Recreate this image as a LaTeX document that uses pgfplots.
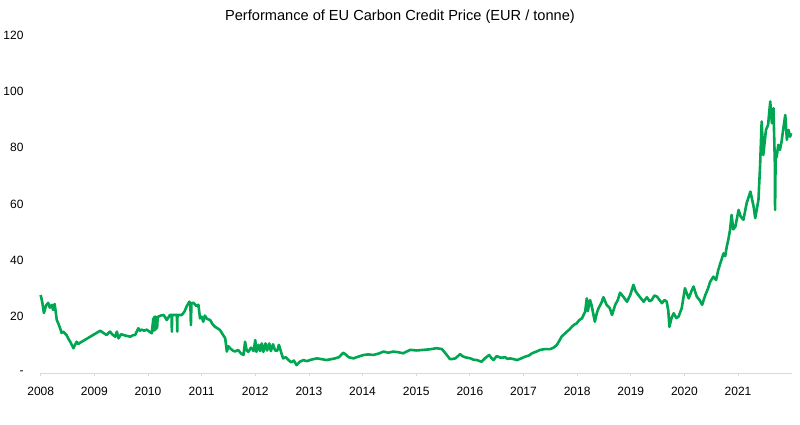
\documentclass[border=0pt]{standalone}
\usepackage{pgfplots}
\pgfplotsset{compat=1.18}
\usepackage{fontspec}
\setmainfont{Liberation Sans}
\definecolor{eugreen}{RGB}{0,166,81}
\definecolor{axgray}{RGB}{217,217,217}
\begin{document}
\begin{tikzpicture}
\useasboundingbox (-40.7pt,-52pt) rectangle (759.3pt,373pt);
\begin{axis}[
  at={(0,0)}, anchor=south west,
  scale only axis, width=751pt, height=338pt,
  xmin=2008, xmax=2022, ymin=0, ymax=120,
  axis x line*=bottom, axis y line*=left,
  x axis line style={draw=axgray, line width=0.8pt},
  y axis line style={draw=none},
  xtick={2008,2009,2010,2011,2012,2013,2014,2015,2016,2017,2018,2019,2020,2021},
  xticklabels={2008,2009,2010,2011,2012,2013,2014,2015,2016,2017,2018,2019,2020,2021},
  ytick={0,20,40,60,80,100,120},
  yticklabels={{-\hspace{8.5pt}},20,40,60,80,100,120},
  x tick style={draw=axgray, line width=0.8pt},
  y tick style={draw=none},
  tick align=outside, major tick length=3pt,
  x tick label style={anchor=north, inner sep=0pt, yshift=-10.5pt, font=\fontsize{12}{14}\selectfont},
  y tick label style={anchor=east, inner sep=0pt, xshift=-14pt, font=\fontsize{12}{14}\selectfont},
  clip=false,
]
\addplot[eugreen, line width=2.6pt, line join=round] table {
x y
2008.00 27.7
2008.03 25.0
2008.06 21.3
2008.10 24.0
2008.14 24.9
2008.17 23.2
2008.21 24.2
2008.23 22.4
2008.26 24.5
2008.30 18.8
2008.33 17.5
2008.36 16.0
2008.39 14.2
2008.42 14.7
2008.48 13.5
2008.52 12.0
2008.55 11.1
2008.58 10.0
2008.61 8.8
2008.64 10.0
2008.67 11.1
2008.70 10.3
2008.73 10.7
2009.11 15.0
2009.17 14.2
2009.23 13.5
2009.29 14.7
2009.34 13.6
2009.39 12.9
2009.42 14.7
2009.45 12.3
2009.50 13.8
2009.54 13.5
2009.60 13.2
2009.67 12.9
2009.72 13.4
2009.76 13.5
2009.82 15.9
2009.85 15.0
2009.88 15.4
2009.93 15.0
2009.98 15.4
2010.03 14.6
2010.07 14.1
2010.10 19.4
2010.11 15.0
2010.12 20.0
2010.13 15.2
2010.14 20.0
2010.15 15.5
2010.16 19.8
2010.17 16.0
2010.18 19.5
2010.19 20.0
2010.24 20.4
2010.29 20.6
2010.32 19.8
2010.35 18.8
2010.41 20.6
2010.44 20.6
2010.445 14.7
2010.45 20.6
2010.54 20.6
2010.545 14.7
2010.55 20.6
2010.63 20.6
2010.68 21.8
2010.72 23.6
2010.77 25.3
2010.79 24.6
2010.80 17.0
2010.81 24.8
2010.85 24.9
2010.90 23.8
2010.94 24.2
2010.97 19.4
2011.00 20.0
2011.03 18.2
2011.06 20.4
2011.10 19.2
2011.16 18.8
2011.20 17.4
2011.25 16.4
2011.30 15.8
2011.34 15.3
2011.39 13.8
2011.44 12.3
2011.47 7.6
2011.50 9.5
2011.53 8.8
2011.58 8.0
2011.62 7.6
2011.68 8.2
2011.73 7.0
2011.78 6.4
2011.81 11.1
2011.84 8.0
2011.87 7.5
2011.92 9.0
2011.97 7.8
2012.00 11.7
2012.02 7.5
2012.06 10.0
2012.09 7.8
2012.12 10.5
2012.15 7.5
2012.19 10.5
2012.22 8.0
2012.26 10.5
2012.29 7.8
2012.33 10.2
2012.37 8.0
2012.41 7.9
2012.44 10.0
2012.46 8.8
2012.49 6.8
2012.52 5.2
2012.57 5.6
2012.62 4.6
2012.67 3.8
2012.72 4.4
2012.77 2.8
2012.83 4.0
2012.90 4.6
2012.96 4.2
2013.02 4.6
2013.08 4.9
2013.15 5.2
2013.24 4.9
2013.33 4.6
2013.41 4.9
2013.49 5.2
2013.56 5.6
2013.64 7.2
2013.69 6.5
2013.74 5.6
2013.83 5.2
2013.92 5.8
2014.02 6.4
2014.11 6.6
2014.20 6.4
2014.30 6.9
2014.39 7.6
2014.48 7.2
2014.57 7.6
2014.66 7.4
2014.76 7.0
2014.82 7.6
2014.89 8.2
2015.01 8.0
2015.13 8.2
2015.25 8.4
2015.38 8.8
2015.48 8.5
2015.57 6.4
2015.63 4.9
2015.68 5.0
2015.73 5.2
2015.82 6.7
2015.86 6.0
2015.91 5.6
2016.01 5.2
2016.07 4.7
2016.13 4.6
2016.22 4.0
2016.28 5.2
2016.36 6.4
2016.40 5.4
2016.44 4.6
2016.50 6.0
2016.58 5.4
2016.66 5.6
2016.70 5.0
2016.75 5.2
2016.82 4.9
2016.88 4.6
2016.96 5.2
2017.03 5.8
2017.10 6.2
2017.16 7.0
2017.24 7.6
2017.31 8.2
2017.40 8.5
2017.50 8.5
2017.56 9.0
2017.62 9.9
2017.67 11.5
2017.71 12.9
2017.76 13.8
2017.81 14.7
2017.86 15.5
2017.90 16.4
2017.95 17.2
2017.99 17.6
2018.04 18.8
2018.09 19.4
2018.12 20.6
2018.15 21.8
2018.18 26.5
2018.20 22.0
2018.24 25.9
2018.27 24.0
2018.33 18.2
2018.37 21.5
2018.40 23.0
2018.45 24.8
2018.49 26.9
2018.55 24.2
2018.61 23.0
2018.65 20.6
2018.71 24.2
2018.76 26.0
2018.80 28.5
2018.86 27.1
2018.93 25.3
2018.99 27.7
2019.05 31.3
2019.09 29.0
2019.14 27.7
2019.19 26.5
2019.24 25.3
2019.30 26.9
2019.35 25.5
2019.39 25.9
2019.44 27.5
2019.49 27.1
2019.54 25.8
2019.58 24.8
2019.63 25.9
2019.67 25.3
2019.70 22.0
2019.72 16.4
2019.76 19.5
2019.80 21.2
2019.85 19.5
2019.89 20.0
2019.95 23.0
2020.01 30.1
2020.05 28.0
2020.08 26.5
2020.13 29.0
2020.17 30.7
2020.23 27.1
2020.28 26.0
2020.33 24.2
2020.39 27.7
2020.44 30.0
2020.48 32.4
2020.54 34.2
2020.59 33.0
2020.63 36.5
2020.67 39.0
2020.73 42.5
2020.76 41.5
2020.79 44.9
2020.82 47.5
2020.85 50.8
2020.88 56.1
2020.91 51.0
2020.95 52.0
2021.01 57.9
2021.05 55.5
2021.10 54.4
2021.16 60.3
2021.23 64.4
2021.29 59.1
2021.32 55.0
2021.38 61.5
2021.41 73.3
2021.44 89.3
2021.47 77.4
2021.52 86.3
2021.56 88.1
2021.60 96.4
2021.63 88.7
2021.66 94.0
2021.685 75.0
2021.69 57.9
2021.70 76.0
2021.72 76.8
2021.75 81.0
2021.78 79.2
2021.81 82.0
2021.84 86.3
2021.88 91.6
2021.91 82.8
2021.94 86.3
2021.97 83.9
2021.99 85.1
};
\end{axis}
\node[anchor=base] at (359.3pt,352.3pt) {\fontsize{14.6}{17}\selectfont Performance of EU Carbon Credit Price (EUR / tonne)};
\end{tikzpicture}
\end{document}
